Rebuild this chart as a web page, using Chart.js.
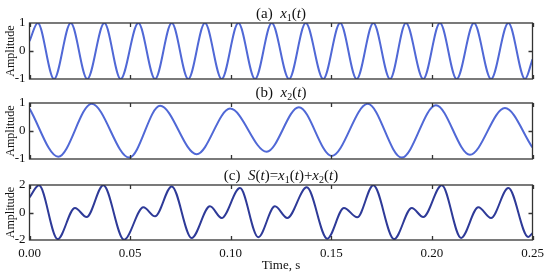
<!DOCTYPE html>
<html>
<head>
<meta charset="utf-8">
<script src="https://cdn.jsdelivr.net/npm/chart.js@4.4.1/dist/chart.umd.min.js"></script>
<style>
    html, body { margin: 0; padding: 0; background: #fff; }
    #wrap { position: relative; width: 550px; height: 275px; }
    canvas { position: absolute; left: 0; }
</style>
</head>
<body>
<div id="wrap">
    <canvas id="chart-a" width="550" height="91" style="top:0"></canvas>
    <canvas id="chart-b" width="550" height="86" style="top:85px"></canvas>
    <canvas id="chart-c" width="550" height="110" style="top:165px"></canvas>
</div>
<script>
// x1(t): extrema
const x1Times = [0, 0.0041, 0.0122, 0.0205, 0.0287, 0.0372, 0.0453, 0.0541, 0.0624, 0.0707, 0.0789,
    0.0872, 0.0955, 0.1038, 0.1121, 0.1204, 0.1290, 0.1373, 0.1460, 0.1544, 0.1626, 0.1709, 0.1792,
    0.1871, 0.1957, 0.2040, 0.2123, 0.2209, 0.2294, 0.2380, 0.2463, 0.25];
const x1Values = [0.35, 1, -1, 1, -1, 1, -1, 1, -1, 1, -1, 1, -1, 1, -1, 1, -1, 1, -1, 1, -1,
    1, -1, 1, -1, 1, -1, 1, -1, 1, -1, -0.3];

// x2(t): extrema
const x2Times = [0, 0.0143, 0.0309, 0.0496, 0.0649, 0.0831, 0.0997, 0.1179, 0.1339, 0.1502,
    0.1681, 0.1850, 0.2020, 0.2189, 0.2363, 0.25];
const x2Values = [0.8, -0.92, 0.97, -0.95, 0.9, -0.83, 0.8, -0.74, 0.85, -0.89, 0.97, -0.95,
    0.92, -0.85, 0.82, -0.59];

// S(t) = x1 + x2: extrema
const sTimes = [0, 0.0047, 0.0140, 0.0226, 0.0284, 0.0367, 0.0470, 0.0566, 0.0624, 0.0707, 0.0806,
    0.0897, 0.0955, 0.1046, 0.1137, 0.1220, 0.1281, 0.1378, 0.1480, 0.1563, 0.1629, 0.1709, 0.1812,
    0.1900, 0.1957, 0.2049, 0.2145, 0.2231, 0.2294, 0.2380, 0.2479, 0.25];
const sValues = [1.1, 1.98, -1.93, 0.33, -0.33, 1.98, -1.98, 0.38, -0.28, 1.9, -1.85, 0.45, -0.4,
    1.78, -1.8, 0.45, -0.4, 1.83, -1.9, 0.33, -0.35, 1.98, -1.93, 0.33, -0.33, 1.98, -1.85, 0.38,
    -0.4, 1.78, -1.78, -1.5];

const xTicks = [0, 0.05, 0.10, 0.15, 0.20, 0.25];
const yTicksUnit = [-1, 0, 1];
const yTicksSum = [-2, 0, 2];

const xAxisLabel = 'Time, s';
const yAxisLabel = 'Amplitude';

// title pieces: [text, style]  n = normal, i = italic, s = subscript
const titleA = [['(a)  ', 'n'], ['x', 'i'], ['1', 's'], ['(', 'n'], ['t', 'i'], [')', 'n']];
const titleB = [['(b)  ', 'n'], ['x', 'i'], ['2', 's'], ['(', 'n'], ['t', 'i'], [')', 'n']];
const titleC = [['(c)  ', 'n'], ['S', 'i'], ['(', 'n'], ['t', 'i'], [')=', 'n'], ['x', 'i'], ['1', 's'],
    ['(', 'n'], ['t', 'i'], [')+', 'n'], ['x', 'i'], ['2', 's'], ['(', 'n'], ['t', 'i'], [')', 'n']];

const serif = '"Liberation Serif", "Times New Roman", serif';

const fontFor = (style) => {
    if (style === 'i') return 'italic 15px ' + serif;
    if (style === 's') return '10px ' + serif;
    return '15px ' + serif;
};

// frame, inward ticks and the mixed-style title
const panelPlugin = (parts, titleGap) => ({
    id: 'panel',
    afterDatasetsDraw(chart) {
        const { ctx, chartArea: a, scales } = chart;
        ctx.save();
        ctx.strokeStyle = '#333';
        ctx.lineWidth = 1.3;
        ctx.strokeRect(a.left, a.top, a.width, a.height);

        ctx.beginPath();
        xTicks.forEach(v => {
            const px = Math.round(scales.x.getPixelForValue(v)) + 0.5;
            ctx.moveTo(px, a.top); ctx.lineTo(px, a.top + 4);
            ctx.moveTo(px, a.bottom); ctx.lineTo(px, a.bottom - 4);
        });
        const y0 = Math.round(scales.y.getPixelForValue(0)) + 0.5;
        ctx.moveTo(a.left, y0); ctx.lineTo(a.left + 4, y0);
        ctx.moveTo(a.right, y0); ctx.lineTo(a.right - 4, y0);
        ctx.stroke();

        // title
        let total = 0;
        parts.forEach(([t, s]) => { ctx.font = fontFor(s); total += ctx.measureText(t).width; });
        let x = (a.left + a.right) / 2 - total / 2;
        const y = a.top - titleGap;
        ctx.fillStyle = '#111';
        ctx.textBaseline = 'middle';
        ctx.textAlign = 'left';
        parts.forEach(([t, s]) => {
            ctx.font = fontFor(s);
            ctx.fillText(t, x, s === 's' ? y + 4 : y);
            x += ctx.measureText(t).width;
        });
        ctx.restore();
    }
});

const makeChart = (id, times, values, color, yTicks, titleParts, cfg) => {
    const points = times.map((t, i) => ({ x: t, y: values[i] }));
    const yMax = yTicks[yTicks.length - 1];
    return new Chart(document.getElementById(id), {
        type: 'line',
        data: {
            datasets: [{
                data: points,
                borderColor: color,
                borderWidth: 2,
                pointRadius: 0,
                fill: false,
                cubicInterpolationMode: 'monotone'
            }]
        },
        options: {
            responsive: false,
            animation: false,
            events: [],
            layout: { padding: { left: 0, right: 17.5, top: cfg.top, bottom: cfg.bottom } },
            plugins: { legend: { display: false }, tooltip: { enabled: false } },
            scales: {
                x: {
                    type: 'linear',
                    min: 0,
                    max: 0.25,
                    display: cfg.showX,
                    grid: { display: false, drawTicks: false },
                    border: { display: false },
                    afterBuildTicks: (scale) => { scale.ticks = xTicks.map(v => ({ value: v })); },
                    afterFit: (scale) => { scale.height = cfg.showX ? 35 : 0; },
                    ticks: {
                        padding: 6,
                        color: '#111',
                        maxRotation: 0,
                        font: { family: serif, size: 13 },
                        callback: (v) => Number(v).toFixed(2)
                    },
                    title: {
                        display: true,
                        text: xAxisLabel,
                        color: '#111',
                        padding: { top: 0, bottom: 2 },
                        font: { family: serif, size: 13 }
                    }
                },
                y: {
                    min: -yMax,
                    max: yMax,
                    grid: { display: false, drawTicks: false },
                    border: { display: false },
                    afterBuildTicks: (scale) => { scale.ticks = yTicks.map(v => ({ value: v })); },
                    afterFit: (scale) => { scale.width = 29.5; },
                    ticks: {
                        padding: 4,
                        color: '#111',
                        font: { family: serif, size: 13 }
                    },
                    title: {
                        display: true,
                        text: yAxisLabel,
                        color: '#111',
                        padding: { top: 4, bottom: 0 },
                        font: { family: serif, size: 12 }
                    }
                }
            }
        },
        plugins: [panelPlugin(titleParts, cfg.titleGap)]
    });
};

document.addEventListener('DOMContentLoaded', () => {
    makeChart('chart-a', x1Times, x1Values, '#5068d6', yTicksUnit, titleA,
        { top: 23, bottom: 12, showX: false, titleGap: 9 });
    makeChart('chart-b', x2Times, x2Values, '#5068d6', yTicksUnit, titleB,
        { top: 18, bottom: 12, showX: false, titleGap: 9.5 });
    makeChart('chart-c', sTimes, sValues, '#2e3a98', yTicksSum, titleC,
        { top: 20, bottom: 0, showX: true, titleGap: 8.5 });
});
</script>
</body>
</html>
